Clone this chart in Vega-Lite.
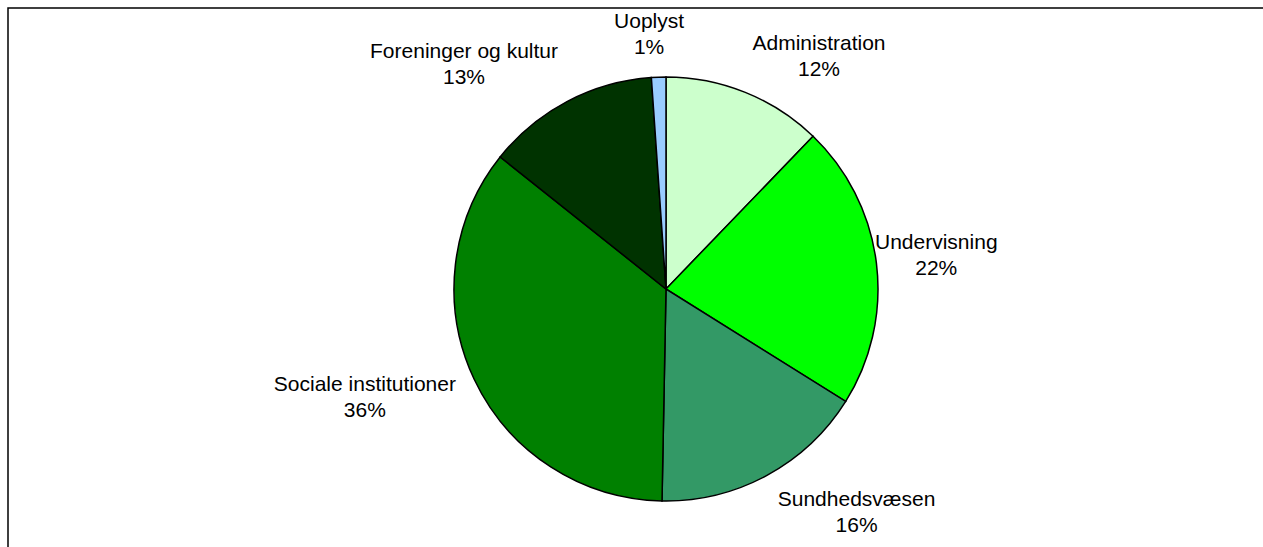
{
  "$schema": "https://vega.github.io/schema/vega-lite/v6.json",
  "autosize": {"type": "none"},
  "padding": {"left": 8, "top": 8, "right": 0, "bottom": 0},
  "width": 1255,
  "height": 539,
  "background": "white",
  "config": {"view": {"stroke": "black", "strokeWidth": 1.5, "strokeDash": [1255, 1794, 539]}},
  "data": {"values": [
    {"idx": 1, "category": "Administration", "value": 12.2, "label": "Administration\n12%"},
    {"idx": 2, "category": "Undervisning", "value": 21.7, "label": "Undervisning\n22%"},
    {"idx": 3, "category": "Sundhedsvæsen", "value": 16.4, "label": "Sundhedsvæsen\n16%"},
    {"idx": 4, "category": "Sociale institutioner", "value": 35.4, "label": "Sociale institutioner\n36%"},
    {"idx": 5, "category": "Foreninger og kultur", "value": 13.2, "label": "Foreninger og kultur\n13%"},
    {"idx": 6, "category": "Uoplyst", "value": 1.1, "label": "Uoplyst\n1%"}
  ]},
  "encoding": {
    "theta": {"field": "value", "type": "quantitative", "stack": true},
    "order": {"field": "idx", "type": "quantitative"},
    "x": {"value": 658},
    "y": {"value": 281}
  },
  "layer": [
    {
      "mark": {"type": "arc", "outerRadius": 212, "stroke": "black", "strokeWidth": 1.5},
      "encoding": {
        "color": {"field": "category", "type": "nominal", "legend": null,
          "scale": {"domain": ["Administration", "Undervisning", "Sundhedsvæsen", "Sociale institutioner", "Foreninger og kultur", "Uoplyst"],
                    "range": ["#CCFFCC", "#00FF00", "#339966", "#008000", "#003300", "#99CCFF"]}}
      }
    },
    {
      "mark": {"type": "text", "radius": 230, "dx": 67, "dy": -32, "align": "center", "baseline": "middle", "font": "Liberation Sans", "fontSize": 21, "lineBreak": "\n", "lineHeight": 26, "color": "black"},
      "encoding": {"text": {"condition": {"test": "datum.category == 'Administration'", "field": "label"}, "value": ""}}
    },
    {
      "mark": {"type": "text", "radius": 230, "dx": 42, "dy": -18, "align": "center", "baseline": "middle", "font": "Liberation Sans", "fontSize": 21, "lineBreak": "\n", "lineHeight": 26, "color": "black"},
      "encoding": {"text": {"condition": {"test": "datum.category == 'Undervisning'", "field": "label"}, "value": ""}}
    },
    {
      "mark": {"type": "text", "radius": 230, "dx": 81, "dy": 9, "align": "center", "baseline": "middle", "font": "Liberation Sans", "fontSize": 21, "lineBreak": "\n", "lineHeight": 26, "color": "black"},
      "encoding": {"text": {"condition": {"test": "datum.category == 'Sundhedsvæsen'", "field": "label"}, "value": ""}}
    },
    {
      "mark": {"type": "text", "radius": 230, "dx": -93, "dy": -2, "align": "center", "baseline": "middle", "font": "Liberation Sans", "fontSize": 21, "lineBreak": "\n", "lineHeight": 26, "color": "black"},
      "encoding": {"text": {"condition": {"test": "datum.category == 'Sociale institutioner'", "field": "label"}, "value": ""}}
    },
    {
      "mark": {"type": "text", "radius": 230, "dx": -95, "dy": -33, "align": "center", "baseline": "middle", "font": "Liberation Sans", "fontSize": 21, "lineBreak": "\n", "lineHeight": 26, "color": "black"},
      "encoding": {"text": {"condition": {"test": "datum.category == 'Foreninger og kultur'", "field": "label"}, "value": ""}}
    },
    {
      "mark": {"type": "text", "radius": 230, "dx": -9, "dy": -37, "align": "center", "baseline": "middle", "font": "Liberation Sans", "fontSize": 21, "lineBreak": "\n", "lineHeight": 26, "color": "black"},
      "encoding": {"text": {"condition": {"test": "datum.category == 'Uoplyst'", "field": "label"}, "value": ""}}
    }
  ]
}
